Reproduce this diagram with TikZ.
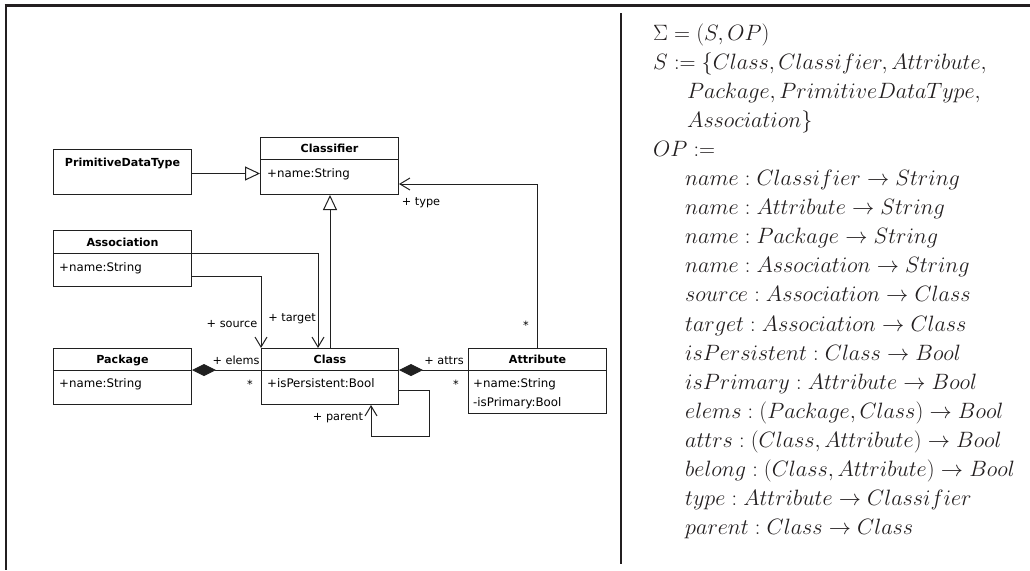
\RequirePackage{fix-cm}
\documentclass[tikz,border=0pt]{standalone}
\usepackage[no-math]{fontspec}
\newfontfamily\umlfont{DejaVu Sans}
\usetikzlibrary{arrows.meta,calc}
\definecolor{framec}{HTML}{231F20}
\definecolor{umlline}{HTML}{202020}
\begin{document}
\begin{tikzpicture}[x=1pt,y=-1pt,
  umlbox/.style={draw=umlline,line width=1pt,minimum width=138pt,inner sep=0pt,anchor=north west},
  umltitle/.style={font=\umlfont\bfseries\fontsize{11.1}{13}\selectfont,inner sep=0pt,anchor=base},
  umlattr/.style={font=\umlfont\fontsize{11.8}{14}\selectfont,inner sep=0pt,anchor=base west},
  umllabel/.style={font=\umlfont\fontsize{11.3}{14}\selectfont,inner sep=0pt,anchor=base},
  sepline/.style={draw=umlline,line width=1pt},
  conn/.style={draw=umlline,line width=1pt},
  openarrow/.style={conn,-{Straight Barb[length=10pt,width=12pt,line width=1pt]}},
  genarrow/.style={conn,-{Triangle[open,length=15pt,width=14pt,fill=white,line width=1pt]}},
  compo/.style={conn,{Diamond[length=24pt,width=12pt]}-},
  mathline/.style={font=\fontsize{22.2}{28}\selectfont,inner sep=0pt,anchor=base west,text=framec}
]
\useasboundingbox (0,0) rectangle (1030,570);
% frame
\draw[framec,line width=3pt] (4.5,5.5) -- (1030,5.5);
\draw[framec,line width=2.5pt] (6,4) -- (6,570);
\draw[framec,line width=2.2pt] (621,13) -- (621,564);

% UML boxes
\node[umlbox,minimum height=45pt] (pdt) at (53,149) {};
\node[umlbox,minimum height=57pt] (classifier) at (260,137) {};
\node[umlbox,minimum height=56pt] (association) at (53,230) {};
\node[umlbox,minimum height=56pt] (package) at (53,348) {};
\node[umlbox,minimum height=56pt,minimum width=137pt] (class) at (261,348) {};
\node[umlbox,minimum height=65pt] (attribute) at (468,348) {};

% separators
\draw[sepline] ($(classifier.north west)+(0,22)$) -- ($(classifier.north east)+(0,22)$);
\draw[sepline] ($(association.north west)+(0,23)$) -- ($(association.north east)+(0,23)$);
\draw[sepline] ($(package.north west)+(0,22)$) -- ($(package.north east)+(0,22)$);
\draw[sepline] ($(class.north west)+(0,22)$) -- ($(class.north east)+(0,22)$);
\draw[sepline] ($(attribute.north west)+(0,22)$) -- ($(attribute.north east)+(0,22)$);

% titles
\node[umltitle] (pdtt) at ($(pdt.north)+(0,17)$) {PrimitiveDataType};
\node[umltitle] (classifiert) at ($(classifier.north)+(0,15.5)$) {Classifier};
\node[umltitle] (associationt) at ($(association.north)+(0,16)$) {Association};
\node[umltitle] (packaget) at ($(package.north)+(0,15.5)$) {Package};
\node[umltitle] (classt) at ($(class.north)+(0,15.5)$) {Class};
\node[umltitle] (attributet) at ($(attribute.north)+(0,15.5)$) {Attribute};

% attributes
\node[umlattr] (classifiera) at ($(classifier.north west)+(7,40)$) {+name:String};
\node[umlattr] (associationa) at ($(association.north west)+(6,41)$) {+name:String};
\node[umlattr] (packagea) at ($(package.north west)+(6,39)$) {+name:String};
\node[umlattr] (classa) at ($(class.north west)+(6,39)$) {+isPersistent:Bool};
\node[umlattr] (attributea) at ($(attribute.north west)+(5,39)$) {+name:String};
\node[umlattr] (attributeb) at ($(attribute.north west)+(5,58)$) {-isPrimary:Bool};

% connectors
\draw[genarrow] ($(pdt.east)+(0,1.5)$) -- ($(pdt.east -| classifier.west)+(0,1.5)$);
\draw[genarrow] (class.north) -- (class.north |- classifier.south);
\draw[openarrow] (attribute.north) |- ($(classifier.south east)+(0,-11)$);
\draw[openarrow] ($(association.north east)+(0,23)$) -| ($(class.north west)+(57,0)$);
\draw[openarrow] ($(association.north east)+(0,46)$) -| (class.north west);
\draw[compo] ($(package.north east)+(0,22)$) -- ($(class.north west)+(0,22)$);
\draw[compo] ($(class.north east)+(0,22)$) -- ($(attribute.north west)+(0,22)$);
\draw[openarrow] ($(class.north east)+(0,42)$) -- ++(30,0) -- ++(0,46) -| ($(class.south west)+(110,0)$);

% labels
\node[umllabel] (ltype) at (421,205) {+ type};
\node[umllabel] (lsource) at (232,327) {+ source};
\node[umllabel] (ltarget) at (292,321) {+ target};
\node[umllabel] (lelems) at (236,364) {+ elems};
\node[umllabel] (lattrs) at (444,364) {+ attrs};
\node[umllabel] (lparent) at (338,420) {+ parent};
\node[umllabel] (lstar1) at (250,388) {*};
\node[umllabel] (lstar2) at (456,388) {*};
\node[umllabel] (lstar3) at (526,329) {*};

% signature
\node[mathline] (m1) at (653,40) {$\Sigma = (S, OP)$};
\node[mathline] (m2) at (653,69.1) {$S := \{Class, Classifier, Attribute,$};
\node[mathline] (m3) at (687,98.2) {$Package, PrimitiveDataType,$};
\node[mathline] (m4) at (687,127.3) {$Association\}$};
\node[mathline] (m5) at (653,156.4) {$OP :=$};
\node[mathline] (m6) at (685,185.5) {$name : Classifier \rightarrow String$};
\node[mathline] (m7) at (685,214.6) {$name : Attribute \rightarrow String$};
\node[mathline] (m8) at (685,243.7) {$name : Package \rightarrow String$};
\node[mathline] (m9) at (685,272.8) {$name : Association \rightarrow String$};
\node[mathline] (m10) at (685,301.9) {$source : Association \rightarrow Class$};
\node[mathline] (m11) at (685,331) {$target : Association \rightarrow Class$};
\node[mathline] (m12) at (685,360.1) {$isPersistent : Class \rightarrow Bool$};
\node[mathline] (m13) at (685,389.2) {$isPrimary : Attribute \rightarrow Bool$};
\node[mathline] (m14) at (685,418.3) {$elems : (Package, Class) \rightarrow Bool$};
\node[mathline] (m15) at (685,447.4) {$attrs : (Class, Attribute) \rightarrow Bool$};
\node[mathline] (m16) at (685,476.5) {$belong : (Class, Attribute) \rightarrow Bool$};
\node[mathline] (m17) at (685,505.6) {$type : Attribute \rightarrow Classifier$};
\node[mathline] (m18) at (685,534.7) {$parent : Class \rightarrow Class$};
\end{tikzpicture}
\end{document}
